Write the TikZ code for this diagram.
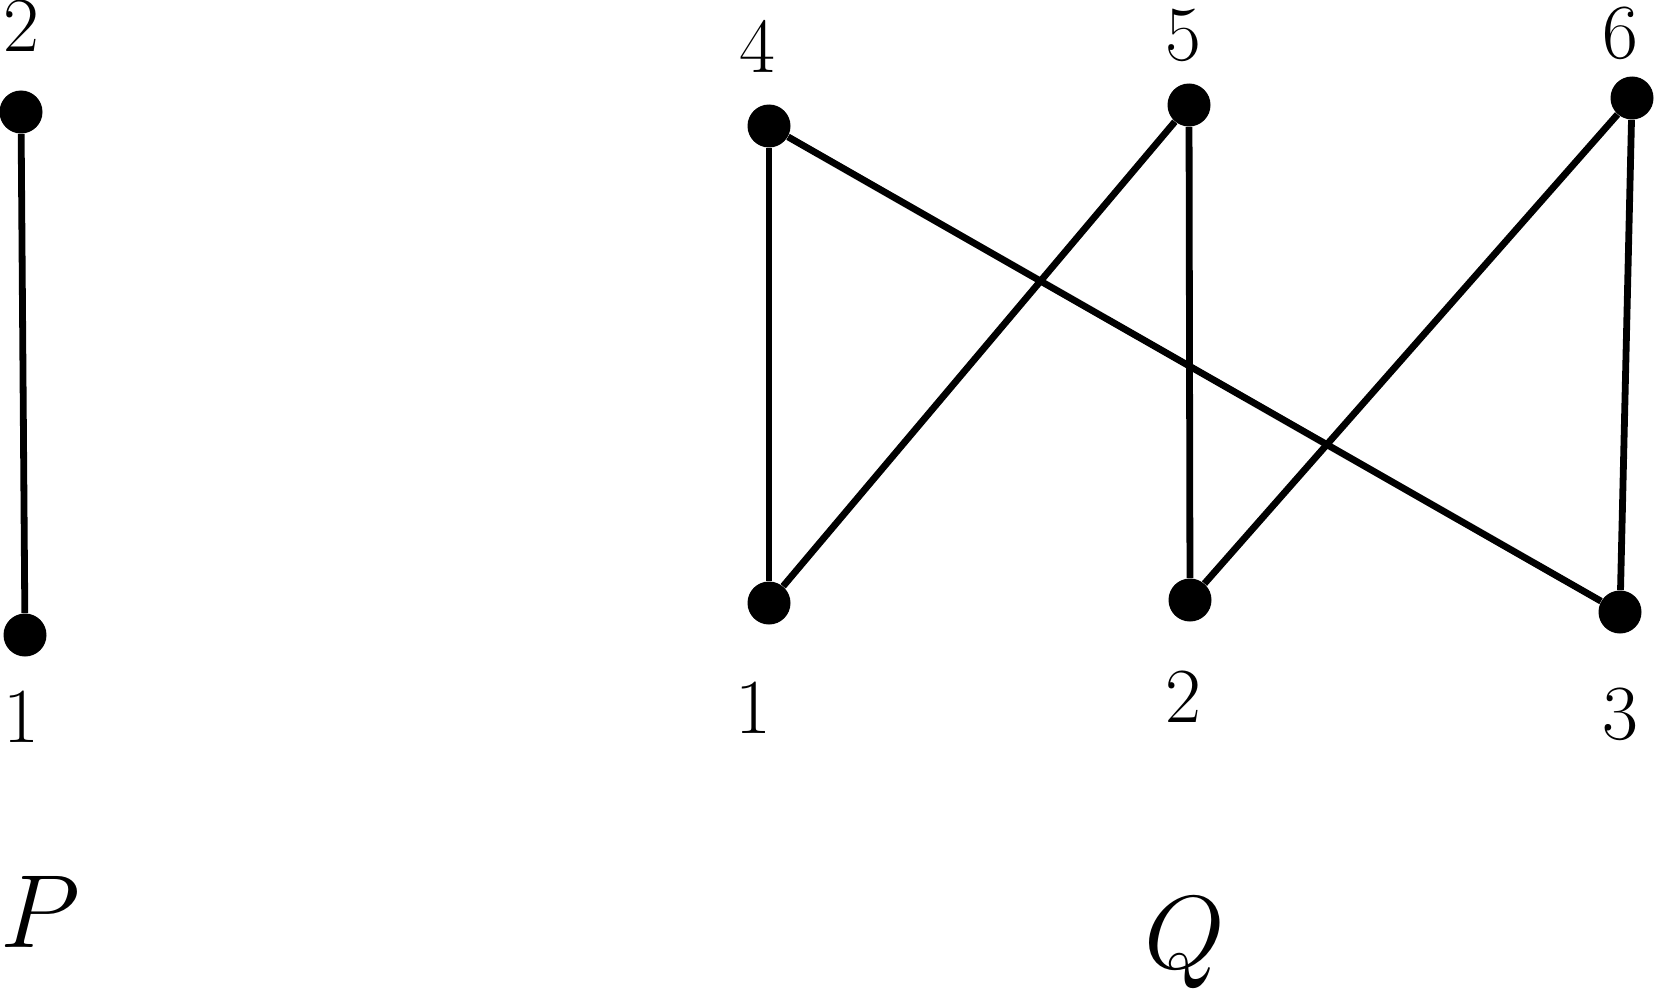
\RequirePackage{fix-cm}
\documentclass[tikz,border=0pt]{standalone}
\begin{document}
\begin{tikzpicture}[x=0.5pt,y=-0.5pt,
  vtx/.style={circle,fill=black,draw=none,inner sep=0pt,minimum size=21.5pt},
  edge/.style={line width=3.4pt},
  num/.style={anchor=base,inner sep=0pt,font=\fontsize{39}{44}\selectfont},
  big/.style={anchor=base,inner sep=0pt,font=\fontsize{52}{58}\selectfont}]
\useasboundingbox (0,0) rectangle (1654,990);
% P
\node[vtx] (p2) at (21,112) {};
\node[vtx] (p1) at (25,635) {};
\draw[edge] (p2) -- (p1);
\node[num] (lp2) at (21,52) {2};
\node[num] (lp1) at (21,742) {1};
\node[big] (lP) at (40,947) {$P$};
% Q
\node[vtx] (q4) at (769,126) {};
\node[vtx] (q5) at (1189,105) {};
\node[vtx] (q6) at (1632,98) {};
\node[vtx] (q1) at (769,603) {};
\node[vtx] (q2) at (1190,600) {};
\node[vtx] (q3) at (1620,612) {};
\draw[edge] (q4) -- (q1);
\draw[edge] (q4) -- (q3);
\draw[edge] (q5) -- (q1);
\draw[edge] (q5) -- (q2);
\draw[edge] (q6) -- (q2);
\draw[edge] (q6) -- (q3);
\node[num] (lq4) at (757,73) {4};
\node[num] (lq5) at (1183,61) {5};
\node[num] (lq6) at (1620,59) {6};
\node[num] (lq1) at (753,733) {1};
\node[num] (lq2) at (1183,722) {2};
\node[num] (lq3) at (1620,739) {3};
\node[big] (lQ) at (1185,968) {$Q$};
\end{tikzpicture}
\end{document}
